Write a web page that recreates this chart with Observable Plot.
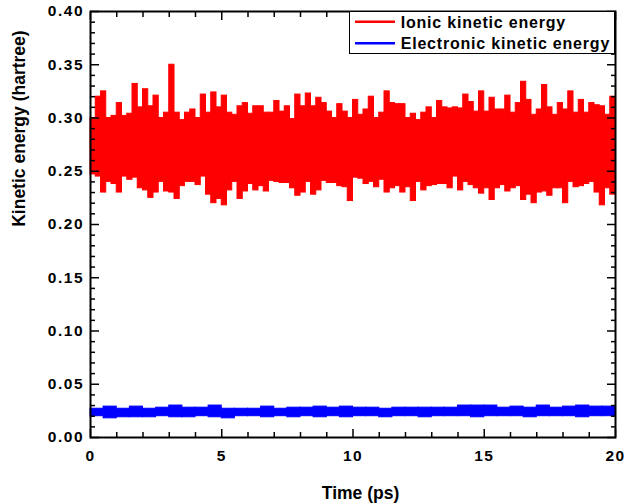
<!DOCTYPE html>
<html>
<head>
<meta charset="utf-8">
<script src="https://cdn.jsdelivr.net/npm/d3@7"></script>
<script src="https://cdn.jsdelivr.net/npm/@observablehq/plot@0.6"></script>
<style>
  body { margin: 0; background: #fff; }
  #wrap { position: relative; width: 625px; height: 504px; background: #fff;
          font-family: "Liberation Sans", Arial, sans-serif; font-weight: bold; }
  #wrap svg.plot { display: block; }
  [aria-label="y-axis tick label"], [aria-label="x-axis tick label"] { letter-spacing: 1.5px; }
  #legend { position: absolute; left: 0; top: 0; pointer-events: none; }
</style>
</head>
<body>
<div id="wrap"></div>
<script>
// ---- data ----
// Ionic kinetic energy: envelope (max / min) per 0.2 ps bin, 0 – 20 ps
const ionicBin = 0.2;
const ionicHi = [
  0.300,0.320,0.325,0.300,0.302,0.314,0.302,0.304,0.332,0.310,
  0.327,0.311,0.321,0.300,0.305,0.350,0.305,0.298,0.305,0.308,
  0.300,0.322,0.305,0.324,0.310,0.321,0.305,0.303,0.311,0.314,
  0.304,0.311,0.311,0.305,0.305,0.316,0.306,0.311,0.299,0.322,
  0.311,0.323,0.311,0.319,0.314,0.306,0.300,0.313,0.306,0.300,
  0.317,0.303,0.308,0.320,0.300,0.305,0.325,0.314,0.313,0.313,
  0.300,0.304,0.298,0.305,0.310,0.300,0.316,0.310,0.309,0.310,
  0.309,0.322,0.315,0.306,0.325,0.306,0.319,0.308,0.308,0.321,
  0.305,0.314,0.334,0.317,0.303,0.308,0.331,0.310,0.303,0.314,
  0.308,0.325,0.305,0.317,0.305,0.314,0.312,0.311,0.303,0.320
];
const ionicLo = [
  0.247,0.245,0.230,0.240,0.238,0.230,0.245,0.242,0.244,0.234,
  0.232,0.225,0.230,0.240,0.231,0.230,0.224,0.236,0.240,0.240,
  0.237,0.245,0.228,0.220,0.224,0.218,0.232,0.240,0.224,0.231,
  0.238,0.232,0.236,0.231,0.241,0.240,0.239,0.239,0.234,0.227,
  0.230,0.240,0.228,0.232,0.241,0.239,0.239,0.236,0.235,0.222,
  0.244,0.243,0.238,0.240,0.235,0.242,0.230,0.234,0.236,0.230,
  0.235,0.222,0.240,0.232,0.236,0.237,0.238,0.238,0.234,0.245,
  0.232,0.240,0.237,0.234,0.229,0.234,0.223,0.234,0.237,0.231,
  0.234,0.236,0.223,0.228,0.220,0.230,0.231,0.227,0.234,0.234,
  0.220,0.240,0.235,0.236,0.238,0.240,0.230,0.218,0.234,0.228
];
// Electronic kinetic energy: envelope per 0.5 ps bin
const elecBin = 0.5;
const elecHi = [
  0.027,0.029,0.027,0.029,0.027,0.028,0.030,0.028,0.028,0.030,
  0.027,0.027,0.027,0.029,0.027,0.028,0.028,0.029,0.028,0.029,
  0.028,0.028,0.027,0.028,0.028,0.028,0.028,0.028,0.030,0.030,
  0.030,0.028,0.029,0.028,0.030,0.028,0.029,0.030,0.029,0.029
];
const elecLo = [
  0.020,0.018,0.019,0.019,0.019,0.020,0.019,0.019,0.020,0.019,
  0.018,0.020,0.020,0.019,0.020,0.019,0.020,0.019,0.020,0.019,
  0.020,0.020,0.019,0.020,0.020,0.019,0.020,0.020,0.020,0.019,
  0.020,0.020,0.020,0.019,0.020,0.020,0.020,0.019,0.020,0.020
];
const seriesNames = ["Ionic kinetic energy", "Electronic kinetic energy"];
const seriesColors = ["#ff0000", "#0000ff"];
const xMajor = [0, 5, 10, 15, 20];
const yMajor = [0, 0.05, 0.10, 0.15, 0.20, 0.25, 0.30, 0.35, 0.40];
const xTitle = "Time (ps)";
const yTitle = "Kinetic energy (hartree)";

// ---- tables ----
const ionic = ionicHi.map((hi, i) => ({t0: i * ionicBin, t1: (i + 1) * ionicBin, hi, lo: ionicLo[i]}));
const elec = elecHi.map((hi, i) => ({t0: i * elecBin, t1: (i + 1) * elecBin, hi, lo: elecLo[i]}));
const xMinor = d3.range(0, 21, 1).filter(v => v % 5 !== 0);
const yMinor = d3.range(0, 41, 1).filter(v => v % 5 !== 0).map(v => v / 100);

const tickStyle = {fill: "none", label: null, strokeWidth: 1.5};

const chart = Plot.plot({
  width: 625,
  height: 504,
  marginLeft: 90,
  marginRight: 10,
  marginTop: 11,
  marginBottom: 67,
  x: {domain: [0, 20]},
  y: {domain: [0, 0.40]},
  style: {fontFamily: "Liberation Sans, Arial, sans-serif", fontWeight: "bold", fontSize: "15.5px",
          background: "white", color: "black", overflow: "visible"},
  marks: [
    Plot.rect(ionic, {x1: "t0", x2: "t1", y1: "lo", y2: "hi", fill: seriesColors[0], stroke: seriesColors[0], strokeWidth: 1}),
    Plot.rect(elec, {x1: "t0", x2: "t1", y1: "lo", y2: "hi", fill: seriesColors[1], stroke: seriesColors[1], strokeWidth: 1}),
    // inward ticks: left / right
    Plot.axisY(yMajor, {anchor: "left", tickSize: 9, dx: 9, ...tickStyle}),
    Plot.axisY(yMinor, {anchor: "left", tickSize: 5, dx: 5, ...tickStyle}),
    Plot.axisY(yMajor, {anchor: "right", tickSize: 9, dx: -9, ...tickStyle}),
    Plot.axisY(yMinor, {anchor: "right", tickSize: 5, dx: -5, ...tickStyle}),
    // inward ticks: bottom / top
    Plot.axisX(xMajor, {anchor: "bottom", tickSize: 8, dy: -8, ...tickStyle}),
    Plot.axisX(xMinor, {anchor: "bottom", tickSize: 5, dy: -5, ...tickStyle}),
    Plot.axisX(xMajor, {anchor: "top", tickSize: 8, dy: 8, ...tickStyle}),
    Plot.axisX(xMinor, {anchor: "top", tickSize: 5, dy: 5, ...tickStyle}),
    // tick labels
    Plot.axisY(yMajor, {anchor: "left", tickSize: 0, tickPadding: 6.5, tickFormat: d3.format(".2f"), label: null}),
    Plot.axisX(xMajor, {anchor: "bottom", tickSize: 0, tickPadding: 12, tickFormat: d => String(d), label: null}),
    // axis titles
    Plot.text([xTitle], {text: d => d, frameAnchor: "bottom", dx: 7.5, dy: 61, lineAnchor: "bottom",
                         fontSize: 17.5, fontWeight: "bold"}),
    Plot.text([yTitle], {text: d => d, frameAnchor: "left", rotate: -90, dx: -71.2, dy: 2.3, lineAnchor: "middle",
                         fontSize: 17.5, fontWeight: "bold"}),
    Plot.frame({stroke: "black", strokeWidth: 2})
  ]
});
chart.classList.add("plot");
const wrap = document.getElementById("wrap");
wrap.appendChild(chart);

// ---- legend (inside the frame, top-right) ----
const ns = "http://www.w3.org/2000/svg";
const lg = document.createElementNS(ns, "svg");
lg.setAttribute("id", "legend");
lg.setAttribute("width", 625);
lg.setAttribute("height", 504);
const box = document.createElementNS(ns, "rect");
box.setAttribute("x", 349.5); box.setAttribute("y", 11.5);
box.setAttribute("width", 265); box.setAttribute("height", 42);
box.setAttribute("fill", "white"); box.setAttribute("stroke", "black"); box.setAttribute("stroke-width", 1);
lg.appendChild(box);
const rowsY = [21.7, 43.3];
seriesNames.forEach((name, i) => {
  const ln = document.createElementNS(ns, "line");
  ln.setAttribute("x1", 355); ln.setAttribute("x2", 395);
  ln.setAttribute("y1", rowsY[i]); ln.setAttribute("y2", rowsY[i]);
  ln.setAttribute("stroke", seriesColors[i]); ln.setAttribute("stroke-width", 2.5);
  lg.appendChild(ln);
  const tx = document.createElementNS(ns, "text");
  tx.setAttribute("x", 400.7); tx.setAttribute("y", rowsY[i] + 6);
  tx.setAttribute("font-family", "Liberation Sans, Arial, sans-serif");
  tx.setAttribute("font-weight", "bold");
  tx.setAttribute("font-size", "16px");
  tx.setAttribute("letter-spacing", "0.8px");
  tx.setAttribute("fill", "black");
  tx.textContent = name;
  lg.appendChild(tx);
});
// redraw frame edges the box sits on
wrap.appendChild(lg);
</script>
</body>
</html>
